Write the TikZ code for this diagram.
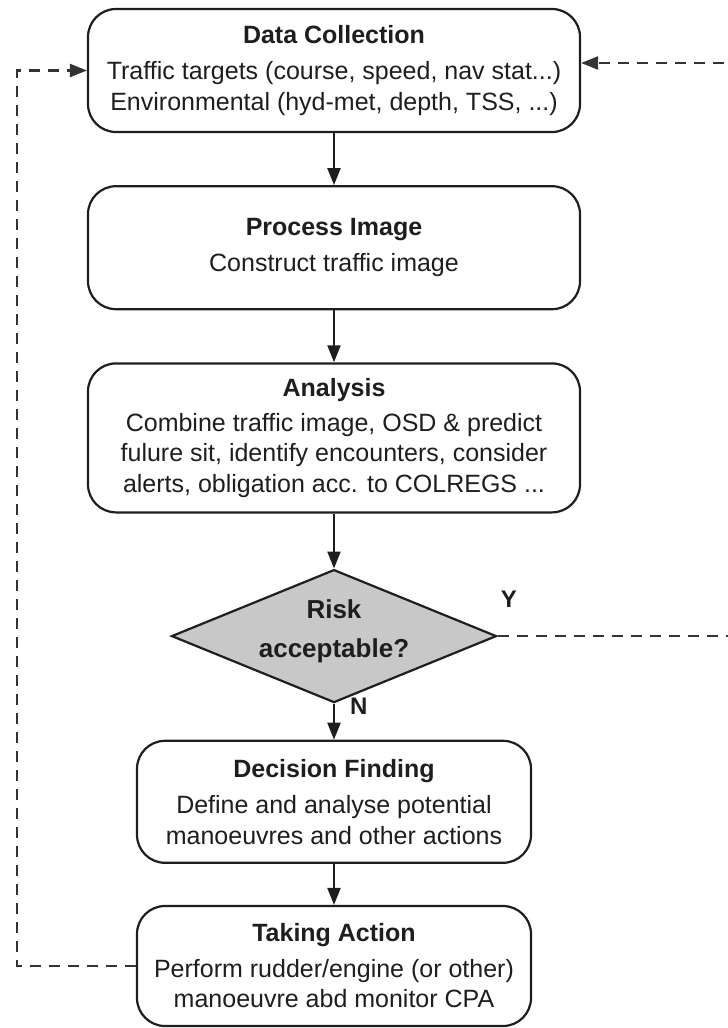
\documentclass[tikz,border=0pt]{standalone}
\usepackage{fontspec}
\setmainfont{Liberation Sans}
\usetikzlibrary{arrows.meta,positioning,shapes.geometric}
\definecolor{fclinedark}{HTML}{1E1E1E}
\definecolor{fcriskgray}{HTML}{C8C8C8}
\definecolor{fcdashgray}{HTML}{333333}
\tikzset{
  stepbox/.style={draw=fclinedark,line width=2.2pt,rounded corners=28pt,fill=white,
                  align=center,minimum width=492pt,minimum height=123pt,inner sep=0pt,
                  text=fclinedark,font=\fontsize{25}{30.5}\selectfont},
  actbox/.style={stepbox,minimum width=394pt,minimum height=120pt},
  decision/.style={diamond,draw=fclinedark,line width=2.2pt,fill=fcriskgray,aspect=2.44,
                   minimum width=325pt,minimum height=133pt,inner sep=0pt,
                   text=fclinedark,font=\bfseries\fontsize{26}{39}\selectfont},
  flow/.style={-{Triangle[length=17pt,width=13pt]},line width=2.2pt,draw=fclinedark},
  loopflow/.style={-{Triangle[length=17pt,width=13pt]},line width=2.2pt,draw=fcdashgray,
                   dash pattern=on 11pt off 8pt},
  choicelabel/.style={font=\bfseries\fontsize{24}{24}\selectfont,inner sep=0pt,text=fclinedark}
}
\begin{document}
\begin{tikzpicture}[x=1pt,y=1pt]
    \useasboundingbox (0,0) rectangle (728,-1028);

    \node[stepbox] (collect) at (334,-70.5) {\textbf{Data Collection}\\[6pt]Traffic targets (course, speed, nav stat...)\\Environmental (hyd-met, depth, TSS, ...)};
    \node[stepbox,below=52pt of collect,minimum height=123pt] (process) {\textbf{Process Image}\\[6pt]Construct traffic image};
    \node[stepbox,below=52pt of process,minimum height=149pt] (analysis) {\textbf{Analysis}\\[4pt]Combine traffic image, OSD \& predict\\fulure sit, identify encounters, consider\\alerts, obligation acc. to COLREGS ...};
    \node[decision,below=55pt of analysis] (risk) {\smash{\begin{tabular}{@{}c@{}}Risk\\acceptable?\end{tabular}}};
    \node[actbox,below=36pt of risk,minimum height=122pt] (finding) {\textbf{Decision Finding}\\[6pt]Define and analyse potential\\manoeuvres and other actions};
    \node[actbox,below=41pt of finding,minimum height=120pt] (action) {\textbf{Taking Action}\\[5pt]Perform rudder/engine (or other)\\manoeuvre abd monitor CPA};

    \node[choicelabel,above right=28pt and 3pt of risk.east] (yes) {Y};

    \coordinate (leftrail) at (17,-500);
    \coordinate (rightrail) at (742,-300);

    \draw[flow] (collect) -- (process);
    \draw[flow] (process) -- (analysis);
    \draw[flow] (analysis) -- (risk);
    \draw[flow] (risk) -- node[choicelabel,pos=0,anchor=north west,xshift=15pt,yshift=7pt]{N} (finding);
    \draw[flow] (finding) -- (action);

    \draw[loopflow] (action.west) -| (leftrail) |- (collect.west);
    \draw[loopflow] (risk.east) -| (rightrail) |- ([yshift=7.5pt]collect.east);
  \end{tikzpicture}
\end{document}
